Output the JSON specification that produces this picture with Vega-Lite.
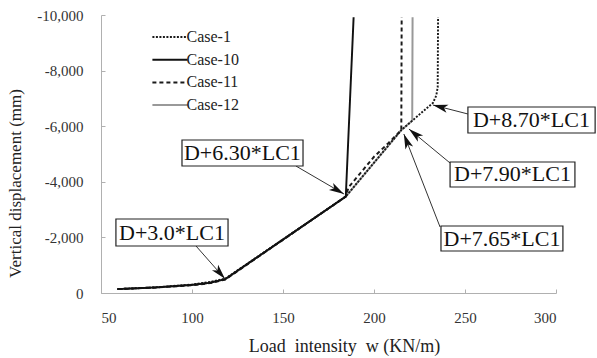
{
  "$schema": "https://vega.github.io/schema/vega-lite/v6.json",
  "width": 455,
  "height": 278,
  "autosize": {"type": "none"},
  "padding": {"left": 101, "top": 15, "right": 41, "bottom": 65},
  "background": "white",
  "config": {
    "view": {"stroke": null},
    "font": "Liberation Serif",
    "locale": {"number": {"decimal": ".", "thousands": ",", "grouping": [3], "currency": ["$", ""], "minus": "-"}},
    "axis": {
      "grid": false,
      "domainColor": "#b0b0b0",
      "tickColor": "#b0b0b0",
      "labelFont": "Liberation Serif",
      "labelFontSize": 15,
      "labelColor": "#333333",
      "titleFont": "Liberation Serif",
      "titleFontSize": 18,
      "titleFontWeight": "normal",
      "titleColor": "#222222"
    }
  },
  "datasets": {
    "series": [
      {"w": 59, "d": -140, "c": "Case-12"},
      {"w": 80, "d": -200, "c": "Case-12"},
      {"w": 100, "d": -290, "c": "Case-12"},
      {"w": 110, "d": -370, "c": "Case-12"},
      {"w": 118.3, "d": -500, "c": "Case-12"},
      {"w": 184.5, "d": -3470, "c": "Case-12"},
      {"w": 215, "d": -5860, "c": "Case-12"},
      {"w": 221, "d": -6200, "c": "Case-12"},
      {"w": 221.2, "d": -9920, "c": "Case-12"},
      {"w": 59, "d": -140, "c": "Case-1"},
      {"w": 80, "d": -205, "c": "Case-1"},
      {"w": 100, "d": -305, "c": "Case-1"},
      {"w": 110, "d": -395, "c": "Case-1"},
      {"w": 118.3, "d": -515, "c": "Case-1"},
      {"w": 184.5, "d": -3470, "c": "Case-1"},
      {"w": 215, "d": -5860, "c": "Case-1"},
      {"w": 232.4, "d": -6840, "c": "Case-1"},
      {"w": 234.2, "d": -7100, "c": "Case-1"},
      {"w": 235, "d": -7400, "c": "Case-1"},
      {"w": 235.2, "d": -9920, "c": "Case-1"},
      {"w": 59, "d": -140, "c": "Case-11"},
      {"w": 80, "d": -195, "c": "Case-11"},
      {"w": 100, "d": -280, "c": "Case-11"},
      {"w": 110, "d": -355, "c": "Case-11"},
      {"w": 118.3, "d": -485, "c": "Case-11"},
      {"w": 184.5, "d": -3470, "c": "Case-11"},
      {"w": 186, "d": -3800, "c": "Case-11"},
      {"w": 200, "d": -4900, "c": "Case-11"},
      {"w": 208, "d": -5400, "c": "Case-11"},
      {"w": 215, "d": -5860, "c": "Case-11"},
      {"w": 215.2, "d": -9920, "c": "Case-11"},
      {"w": 59, "d": -140, "c": "Case-10"},
      {"w": 80, "d": -200, "c": "Case-10"},
      {"w": 100, "d": -290, "c": "Case-10"},
      {"w": 110, "d": -370, "c": "Case-10"},
      {"w": 118.3, "d": -500, "c": "Case-10"},
      {"w": 184.5, "d": -3470, "c": "Case-10"},
      {"w": 188.8, "d": -9920, "c": "Case-10"}
    ],
    "boxes": [
      {"w": 58.2, "w2": 119.8, "d": -2662, "d2": -1691, "tw": 89.0, "td": -2176, "label": "D+3.0*LC1"},
      {"w": 94.5, "w2": 161.0, "d": -5504, "d2": -4568, "tw": 127.7, "td": -5036, "label": "D+6.30*LC1"},
      {"w": 251.6, "w2": 321.5, "d": -6691, "d2": -5755, "tw": 286.5, "td": -6223, "label": "D+8.70*LC1"},
      {"w": 241.8, "w2": 310.4, "d": -4712, "d2": -3813, "tw": 276.1, "td": -4263, "label": "D+7.90*LC1"},
      {"w": 236.8, "w2": 303.8, "d": -2410, "d2": -1511, "tw": 270.3, "td": -1960, "label": "D+7.65*LC1"}
    ],
    "arrows": [
      {"sw": 102.2, "sd": -1691, "tw": 118.1, "td": -510},
      {"sw": 157.1, "sd": -4568, "tw": 183.5, "td": -3561},
      {"sw": 251.6, "sd": -6439, "tw": 232.4, "td": -6763},
      {"sw": 241.8, "sd": -4676, "tw": 219.2, "td": -5899},
      {"sw": 236.3, "sd": -2374, "tw": 216.4, "td": -5719}
    ]
  },
  "layer": [
    {
      "data": {"name": "series"},
      "mark": {"type": "line", "interpolate": "linear"},
      "encoding": {
        "x": {
          "field": "w", "type": "quantitative",
          "scale": {"domain": [50, 300], "nice": false, "zero": false},
          "title": "Load\u00a0\u00a0intensity\u00a0\u00a0w (KN/m)",
          "axis": {
            "values": [50, 100, 150, 200, 250, 300],
            "tickSize": -4,
            "labelPadding": 21,
            "titleX": 243,
            "titleY": 53,
            "titleBaseline": "middle",
            "titleAlign": "center"
          }
        },
        "y": {
          "field": "d", "type": "quantitative",
          "scale": {"domain": [0, -10000], "nice": false, "zero": false},
          "title": "Vertical displacement (mm)",
          "axis": {
            "values": [0, -2000, -4000, -6000, -8000, -10000],
            "format": ",d",
            "tickSize": -4,
            "labelPadding": 22,
            "titleFontSize": 17,
            "titleX": -86,
            "titleY": 168,
            "titleBaseline": "middle",
            "titleAlign": "center",
            "titleAngle": -90
          }
        },
        "color": {
          "field": "c", "type": "nominal",
          "scale": {"domain": ["Case-1", "Case-10", "Case-11", "Case-12"], "range": ["#1a1a1a", "#111111", "#1a1a1a", "#999999"]},
          "legend": {
            "title": null,
            "orient": "none",
            "legendX": 57,
            "legendY": 10,
            "symbolType": "M-1.6,0L1.6,0",
            "symbolSize": 484,
            "symbolStrokeWidth": 1.5,
            "labelFont": "Liberation Serif",
            "labelFontSize": 16,
            "labelColor": "#222222",
            "labelOffset": 4.5,
            "rowPadding": 2.7,
            "padding": 0
          }
        },
        "strokeDash": {
          "field": "c", "type": "nominal",
          "scale": {"domain": ["Case-1", "Case-10", "Case-11", "Case-12"], "range": [[2, 1.5], [1, 0], [4, 3], [1, 0]]}
        },
        "strokeWidth": {
          "field": "c", "type": "nominal",
          "scale": {"domain": ["Case-1", "Case-10", "Case-11", "Case-12"], "range": [1.9, 2, 1.8, 1.4]},
          "legend": null
        }
      }
    },
    {
      "data": {"name": "arrows"},
      "mark": {"type": "rule", "color": "#333333", "strokeWidth": 1},
      "encoding": {
        "x": {"field": "sw", "type": "quantitative", "title": "Load\u00a0\u00a0intensity\u00a0\u00a0w (KN/m)"},
        "y": {"field": "sd", "type": "quantitative", "title": "Vertical displacement (mm)"},
        "x2": {"field": "tw"},
        "y2": {"field": "td"}
      }
    },
    {
      "data": {"name": "arrows"},
      "transform": [
        {"calculate": "atan2((datum.tw - datum.sw) * 455 / 250, (datum.sd - datum.td) * 278 / 10000) * 180 / PI", "as": "ang"}
      ],
      "mark": {"type": "point", "shape": "M0,0L-0.55,2L0,1.5L0.55,2Z", "filled": true, "color": "#111111", "opacity": 1, "size": 225, "strokeWidth": 0},
      "encoding": {
        "x": {"field": "tw", "type": "quantitative", "title": "Load\u00a0\u00a0intensity\u00a0\u00a0w (KN/m)"},
        "y": {"field": "td", "type": "quantitative", "title": "Vertical displacement (mm)"},
        "angle": {"field": "ang", "type": "quantitative", "scale": null}
      }
    },
    {
      "data": {"name": "boxes"},
      "mark": {"type": "rect", "fill": "white", "stroke": "#222222", "strokeWidth": 1.2},
      "encoding": {
        "x": {"field": "w", "type": "quantitative", "title": "Load\u00a0\u00a0intensity\u00a0\u00a0w (KN/m)"},
        "x2": {"field": "w2"},
        "y": {"field": "d", "type": "quantitative", "title": "Vertical displacement (mm)"},
        "y2": {"field": "d2"}
      }
    },
    {
      "data": {"name": "boxes"},
      "mark": {"type": "text", "font": "Liberation Serif", "fontSize": 22, "color": "#111111", "align": "center", "baseline": "middle"},
      "encoding": {
        "x": {"field": "tw", "type": "quantitative", "title": "Load\u00a0\u00a0intensity\u00a0\u00a0w (KN/m)"},
        "y": {"field": "td", "type": "quantitative", "title": "Vertical displacement (mm)"},
        "text": {"field": "label", "type": "nominal"}
      }
    }
  ]
}
